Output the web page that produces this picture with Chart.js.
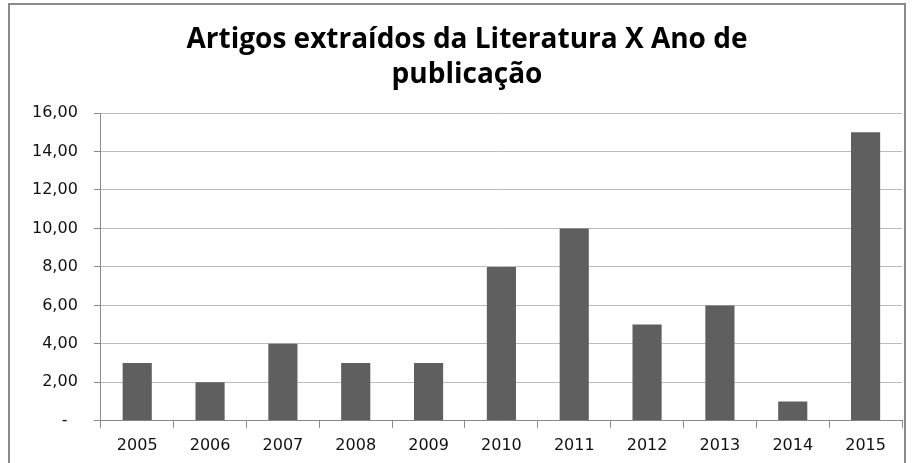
<!DOCTYPE html>
<html>
<head>
<meta charset="utf-8">
<script src="https://cdn.jsdelivr.net/npm/chart.js@4"></script>
<style>
  html, body { margin: 0; padding: 0; background: #fff; overflow: hidden; }
  #wrap { position: relative; width: 912px; height: 463px; }
  #frame { position: absolute; left: 8px; top: 3px; width: 898px; height: 480px; border: 2px solid #8a8a8a; box-sizing: border-box; pointer-events: none; }
</style>
</head>
<body>
<div id="wrap">
  <canvas id="chart" width="912" height="463"></canvas>
  <div id="frame"></div>
</div>
<script>
// dados
const anos = ['2005', '2006', '2007', '2008', '2009', '2010', '2011', '2012', '2013', '2014', '2015'];
const artigos = [3, 2, 4, 3, 3, 8, 10, 5, 6, 1, 15];
const tituloLinhas = ['Artigos extraídos da Literatura X Ano de', 'publicação'];

const fonteTitulo = "'Open Sans', sans-serif";
const fonteEixos = "'DejaVu Sans', sans-serif";

// formato contábil: zero aparece como "-"
const formatarValor = (v) => v === 0 ? '-  ' : v.toFixed(2).replace('.', ',');

// o título no original fica um pouco à direita do centro
const deslocarTitulo = {
    id: 'deslocarTitulo',
    afterLayout: (chart) => {
        if (chart.titleBlock) {
            chart.titleBlock.left += 8;
            chart.titleBlock.right += 8;
        }
    }
};

new Chart(document.getElementById('chart'), {
    type: 'bar',
    data: {
        labels: anos,
        datasets: [{
            data: artigos,
            backgroundColor: '#5f5f5f',
            borderWidth: 0,
            categoryPercentage: 1,
            barPercentage: 0.4
        }]
    },
    options: {
        responsive: false,
        animation: false,
        layout: { padding: { left: 16, right: 10, top: 8, bottom: 0 } },
        plugins: {
            legend: { display: false },
            tooltip: { enabled: false },
            title: {
                display: true,
                text: tituloLinhas,
                color: '#000',
                font: { family: fonteTitulo, size: 28, weight: 'bold', lineHeight: 1.25 },
                padding: { top: 15, bottom: 20 }
            }
        },
        scales: {
            x: {
                offset: true,
                grid: { offset: true, drawOnChartArea: false, drawTicks: true, tickLength: 7, color: '#8a8a8a' },
                border: { color: '#8a8a8a', width: 1 },
                ticks: { color: '#111', font: { family: fonteEixos, size: 16 }, padding: 8, maxRotation: 0 }
            },
            y: {
                min: 0,
                max: 16,
                ticks: { stepSize: 2, color: '#111', font: { family: fonteEixos, size: 16 }, padding: 16, callback: (v) => formatarValor(v) },
                grid: { color: '#bcbcbc', tickLength: 7, tickColor: '#8a8a8a' },
                border: { color: '#8a8a8a', width: 1 }
            }
        }
    },
    plugins: [deslocarTitulo]
});
</script>
</body>
</html>
